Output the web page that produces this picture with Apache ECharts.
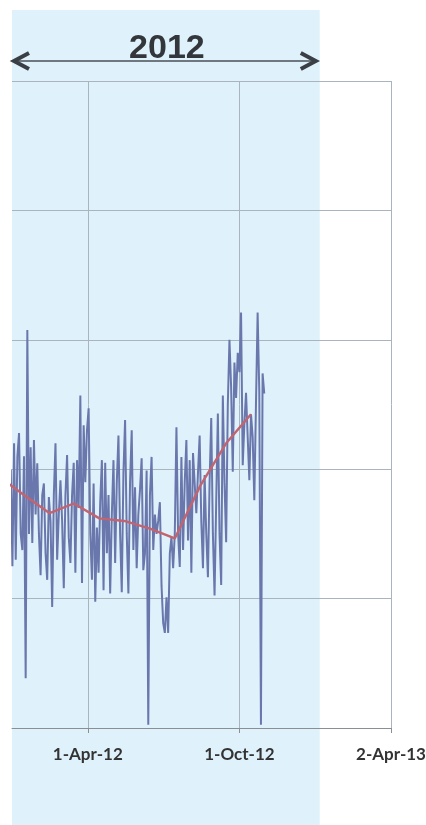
<!DOCTYPE html>
<html>
<head>
<meta charset="utf-8">
<script src="https://cdn.jsdelivr.net/npm/echarts@6/dist/echarts.min.js"></script>
<style>html,body{margin:0;padding:0;background:#fff;}#c{width:426px;height:825px;}</style>
</head>
<body>
<div id="c"></div>
<script>
// ---- data ----
const seriesStart = '2011-12-30';   // first sample
const sampleStepDays = 2;           // samples every 2 days
const dailyValues = [
  40,25,44,26,42,45.6,30,27.5,42,7.7,
  61.5,30,43.4,28.6,44.5,33,40.9,30,23.6,36,
  37.8,27,22.9,35.7,32,18.7,36,44,26,33,
  38.3,32,21.6,36,42.2,29.5,25.5,36,41,24,
  41.4,34,51.4,22.4,46.8,38,46,49.4,30,22.9,
  37.8,19.5,31,24,35,41.4,21.3,41,27,36,
  20.8,33,41.4,25.5,38,45.2,30,21,39.4,47.6,
  30,20.8,38,46,27.5,37.2,24.7,33,36.8,41.7,
  24.4,27,39.8,0.5,36,41.9,27.5,33,30,32,
  34.9,22,16.2,14.7,20.2,14.7,27,29.5,24.7,30,
  46.5,30,24.9,41.9,27.5,38,44.5,29,41.4,24,
  42.5,42.2,33.2,39.4,45.2,32,24.7,39.1,30,23.3,
  38,47.9,30,20.5,35,48.6,30,22.1,51.4,38,
  28.7,50,60,52.7,39.6,56.5,51,58,55,64.2,
  40.6,47,51.8,45,38.3,48.5,45,35.2,50,64.2,
  52,0.5,54.8,51.7
];
const avgDates = ['2011-12-15','2012-01-15','2012-02-15','2012-03-15','2012-04-15','2012-05-15',
                  '2012-06-15','2012-07-15','2012-08-15','2012-09-15','2012-10-15'];
const avgValues = [38.9,36.0,33.2,34.7,32.4,32.0,30.8,29.3,37.5,44.0,48.5];
const tickDates = ['2012-04-01','2012-10-01','2013-04-02'];
const tickLabels = ['1-Apr-12','1-Oct-12','2-Apr-13'];
const bandEndDate = '2013-01-06';
const bandLabel = '2012';

// ---- helpers ----
const ORIGIN = Date.UTC(2012,3,1);
function dayOf(s){ const p=s.split('-').map(Number); return (Date.UTC(p[0],p[1]-1,p[2])-ORIGIN)/86400000; }
const startDay = dayOf(seriesStart);
const blueData = dailyValues.map((v,i)=>[startDay + i*sampleStepDays, v]);
const redData = avgDates.map((d,i)=>[dayOf(d), avgValues[i]]);
const tickDays = tickDates.map(dayOf);
const step = (tickDays[1]-tickDays[0])/2; // quarter-year gridlines

const chart = echarts.init(document.getElementById('c'));
const gridCol = '#a9b4bf';
chart.setOption({
  animation:false,
  backgroundColor:'#fff',
  grid:{left:12,right:35,top:81,bottom:97,containLabel:false,outerBoundsMode:'none'},
  xAxis:{
    type:'value', min:tickDays[0]-step, max:tickDays[2], interval:step,
    axisLine:{show:true,lineStyle:{color:'#8a8f94',width:1}},
    axisTick:{show:true,length:5,customValues:tickDays,lineStyle:{color:'#8a8f94'}},
    splitLine:{show:true,lineStyle:{color:gridCol,width:1}},
    axisLabel:{
      show:true, margin:18, color:'#333', fontFamily:'Lato', fontWeight:'bold', fontSize:17,
      showMinLabel:true, showMaxLabel:true, hideOverlap:false,
      formatter:function(v){ const k=tickDays.findIndex(t=>Math.abs(t-v)<0.01); return k>=0?tickLabels[k]:''; }
    }
  },
  yAxis:{
    type:'value', min:0, max:100, interval:20,
    axisLine:{show:false}, axisTick:{show:false}, axisLabel:{show:false},
    splitLine:{show:true,lineStyle:{color:gridCol,width:1}}
  },
  series:[
    {type:'line', data:blueData, showSymbol:false, symbol:'none', clip:true,
     lineStyle:{color:'#6a77ad',width:2}, z:3},
    {type:'line', data:redData, showSymbol:false, symbol:'none', clip:true,
     lineStyle:{color:'#c26470',width:2.4}, z:4}
  ]
});

const x0 = chart.convertToPixel({gridIndex:0},[tickDays[0]-step,0])[0];
const x1 = chart.convertToPixel({gridIndex:0},[dayOf(bandEndDate),0])[0];
const ay = 61;
const aL = x0, aR = x1-2;
chart.setOption({
  graphic:[
    {type:'rect', z:-10, silent:true, shape:{x:x0,y:10,width:x1-x0,height:815}, style:{fill:'#dff2fb'}},
    {type:'line', z:10, shape:{x1:aL+2,y1:ay,x2:aR-2,y2:ay}, style:{stroke:'#4a4f55',lineWidth:1.6}},
    {type:'polyline', z:10, shape:{points:[[aL+17,ay-8],[aL+2,ay],[aL+17,ay+8]]}, style:{stroke:'#3a3f45',lineWidth:4,fill:null,lineJoin:'miter'}},
    {type:'polyline', z:10, shape:{points:[[aR-17,ay-8],[aR-2,ay],[aR-17,ay+8]]}, style:{stroke:'#3a3f45',lineWidth:4,fill:null,lineJoin:'miter'}},
    {type:'text', z:10, style:{text:bandLabel,x:(aL+aR)/2+2,y:49,align:'center',verticalAlign:'middle',
      fontFamily:'Liberation Sans',fontWeight:'bold',fontSize:34,fill:'#33373b'}}
  ]
});
</script>
</body>
</html>
